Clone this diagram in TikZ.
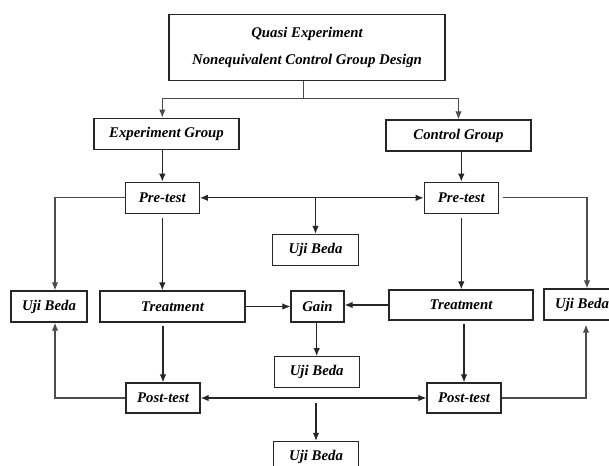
\documentclass[tikz,border=0pt]{standalone}
\usepackage{fontspec}
\setmainfont{Liberation Serif}
\usetikzlibrary{calc}
\usetikzlibrary{arrows.meta}

\begin{document}
\begin{tikzpicture}[x=1pt, y=-1pt,
 box/.style={draw=black!85, line width=1.3pt, rectangle, inner sep=2pt, minimum height=31,
  font=\fontsize{14.8}{27}\selectfont\bfseries\itshape},
 link/.style={black!85, line width=1.1pt, ->, >={Latex[length=8pt,width=6.5pt]}},
 side/.style={link, black!70}]
\useasboundingbox (0,0) rectangle (609,465);
\node[box, minimum width=276, minimum height=66, align=center] (top) at (307,47.3)
 {Quasi Experiment\\Nonequivalent Control Group Design};
\node[box, minimum width=145] (egrp) at (166.5,133.7) {Experiment Group};
\node[box, minimum width=145] (cgrp) at (458.5,135.5) {Control Group};
\node[box, minimum width=74] (preL) at (162.3,197.8) {Pre-test};
\node[box, minimum width=74] (preR) at (461.3,197.8) {Pre-test};
\node[box, minimum width=145] (trtL) at (172.5,306.5) {Treatment};
\node[box, minimum width=144, minimum height=30] (trtR) at (461,305) {Treatment};
\node[box, minimum width=53] (gain) at (317.5,306.5) {Gain};
\node[box, minimum width=74, minimum height=30] (postL) at (163,398) {Post-test};
\node[box, minimum width=74, minimum height=30] (postR) at (464,398) {Post-test};
\foreach \n/\x/\y/\w in {uji1/315.5/250/85.6, ujiL/49/306.5/76, ujiR/582/304.5/76,
  uji2/316.7/372.2/85, uji3/316/457/85}
 \node[box, minimum width=\w] (\n) at (\x,\y) {Uji Beda};

% groups
\coordinate (split) at (303.7,98.7);
\draw[side, -] (top.south -| split) -- (split);
\draw[side] (split) -| (egrp.north -| preL.north);
\draw[side] (split) -| (cgrp.north);
\draw[link] (egrp.south -| preL.north) -- (preL.north);
\draw[link] (cgrp.south -| preR.north) -- (preR.north);
% pre-test
\draw[link, <->] (preL.east) -- (preR.west);
\draw[link] (uji1.north |- preL.east) -- (uji1.north);
\draw[side] (preL.west) -| ([xshift=6]ujiL.north);
\draw[side, shorten <=4pt] (preR.east) -| ([xshift=5]ujiR.north);
\draw[link, shorten <=4pt] (preL.south) -- (trtL.north -| preL.south);
\draw[link, shorten <=4pt] (preR.south) -- (trtR.north -| preR.south);
% gain
\draw[link] (trtL.east) -- (gain.west |- trtL.east);
\draw[link] (trtR.west) -- (gain.east |- trtR.west);
\draw[link] (gain.south -| uji2.north) -- (uji2.north);
% post-test
\draw[link, shorten <=3pt] (trtL.south -| postL.north) -- (postL.north);
\draw[link, shorten <=3pt] (trtR.south -| postR.north) -- (postR.north);
\draw[link, <->] (postL.east) -- (postR.west);
\draw[link, shorten <=5pt] (uji3.north |- postL.east) -- (uji3.north);
\draw[side] (postL.west) -| ([xshift=6]ujiL.south);
\draw[side, shorten >=4pt] (postR.east) -| ([xshift=4]ujiR.south);
\end{tikzpicture}
\end{document}
